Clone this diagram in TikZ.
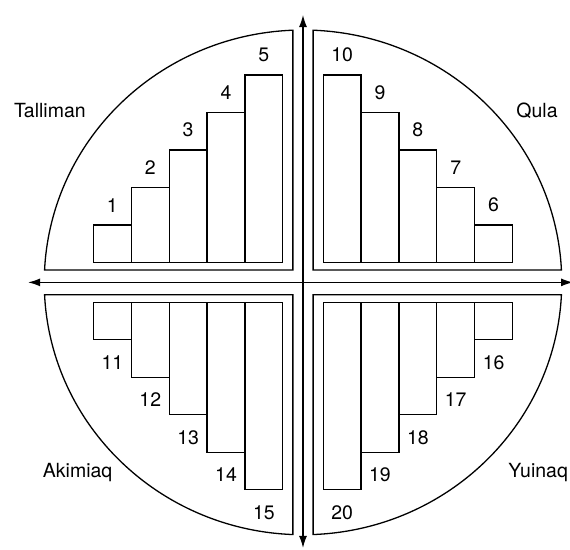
\documentclass[tikz,border=0pt]{standalone}
\usepackage{fontspec}
\setmainfont{TeX Gyre Heros}
\usetikzlibrary{positioning,arrows.meta}

\begin{document}
\begin{tikzpicture}[x=37.5pt,y=37.5pt,font=\fontsize{19.5}{23}\selectfont,
        bar/.style={rectangle,draw,line width=1.3pt,inner sep=0pt,minimum width=37.9pt},
        quad/.style={draw,line width=1.3pt},
        axis/.style={line width=1.2pt,>={Latex[length=12pt,width=8pt]},<->},
        num/.style={inner sep=0pt},
        region/.style={inner sep=0pt,anchor=base}]

    \useasboundingbox (-8.08,-7.13) rectangle (7.12,7.53);

    \draw[quad] (-0.27,0.33) -- (92.24:6.9 and 6.73) arc[start angle=92.24,end angle=177.19,x radius=6.9,y radius=6.73] -- cycle;
    \draw[quad] (0.27,0.33) -- (87.76:6.9 and 6.73) arc[start angle=87.76,end angle=2.81,x radius=6.9,y radius=6.73] -- cycle;
    \draw[quad] (-0.27,-0.33) -- (267.76:6.9 and 6.73) arc[start angle=267.76,end angle=182.81,x radius=6.9,y radius=6.73] -- cycle;
    \draw[quad] (0.27,-0.33) -- (272.24:6.9 and 6.73) arc[start angle=272.24,end angle=357.19,x radius=6.9,y radius=6.73] -- cycle;

    \coordinate (N) at (0,7.13);
    \coordinate (S) at (0,-7.08);
    \coordinate (W) at (-7.33,0);
    \coordinate (E) at (7.2,0);
    \draw[axis] (S) -- (N);
    \draw[axis] (W) -- (E);

    \foreach \h/\a/\b/\c/\d in {1/1/6/11/16, 2/2/7/12/17, 3/3/8/13/18, 4/4/9/14/19, 5/5/10/15/20} {
        \node[bar,minimum height=\h*37.5pt,anchor=south east] (b\a) at ({-0.52-(5-\h)*1.01},0.51) {};
        \node[bar,minimum height=\h*37.5pt,anchor=south west] (b\b) at ({0.52+(5-\h)*1.01},0.51) {};
        \node[bar,minimum height=\h*37.5pt,anchor=north east] (b\c) at ({-0.52-(5-\h)*1.01},-0.51) {};
        \node[bar,minimum height=\h*37.5pt,anchor=north west] (b\d) at ({0.52+(5-\h)*1.01},-0.51) {};
        \node[num,above=12pt of b\a] (n\a) {\a};
        \node[num,above=12pt of b\b] (n\b) {\b};
        \node[num,below=15pt of b\c] (n\c) {\c};
        \node[num,below=15pt of b\d] (n\d) {\d};
    }

    \node[region] (talliman) at (-6.75,4.41) {Talliman};
    \node[region] (qula) at (6.24,4.41) {Qula};
    \node[region] (akimiaq) at (-6.01,-5.19) {Akimiaq};
    \node[region] (yuinaq) at (6.27,-5.19) {Yuinaq};
\end{tikzpicture}
\end{document}
